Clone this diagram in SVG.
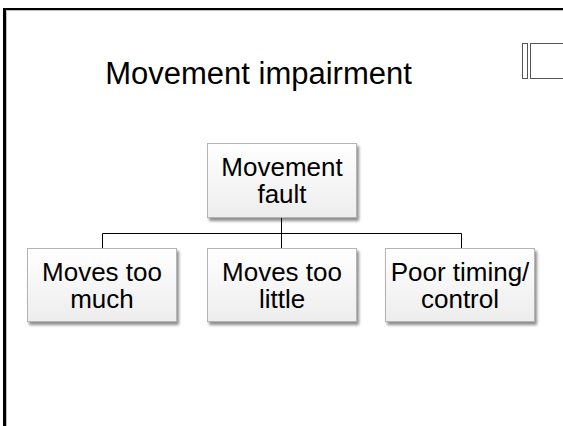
<svg xmlns="http://www.w3.org/2000/svg" width="563" height="426" viewBox="0 0 563 426">
  <style>
    .lbl { font-family: "Liberation Sans", Arial, sans-serif; font-size: 26px; fill: #000; text-anchor: middle; }
    .title { font-family: "Liberation Sans", Arial, sans-serif; font-size: 31px; fill: #000; text-anchor: middle; }
    .box { fill: url(#boxfill); stroke: #b4b4b4; stroke-width: 1; filter: url(#shadow); }
    .conn { stroke: #000; stroke-width: 1; fill: none; }
    .icon { fill: #fff; stroke: #555; stroke-width: 1; }
  </style>
  <defs>
    <linearGradient id="boxfill" x1="0" y1="0" x2="0" y2="1">
      <stop offset="0" stop-color="#ffffff"/>
      <stop offset="1" stop-color="#ededed"/>
    </linearGradient>
    <filter id="shadow" x="-10%" y="-10%" width="130%" height="140%">
      <feGaussianBlur in="SourceAlpha" stdDeviation="1.5"/>
      <feOffset dx="1.5" dy="2.5" result="b"/>
      <feComponentTransfer><feFuncA type="linear" slope="0.45"/></feComponentTransfer>
      <feMerge><feMergeNode/><feMergeNode in="SourceGraphic"/></feMerge>
    </filter>
  </defs>
  <rect width="563" height="426" fill="#fff"/>
  <g id="frame">
    <rect x="3" y="8" width="560" height="2" fill="#000"/>
    <rect x="3" y="8" width="3" height="418" fill="#000"/>
    <rect x="6" y="10" width="557" height="1" fill="#c0c0c0"/>
    <rect x="6" y="10" width="1" height="416" fill="#c0c0c0"/>
  </g>
  <g id="icon">
    <rect class="icon" x="522.5" y="43.5" width="5" height="35"/>
    <rect class="icon" x="530.5" y="43.5" width="40" height="35"/>
  </g>
  <g id="title">
    <text class="title" x="258.5" y="84">Movement impairment</text>
  </g>
  <g id="connectors">
    <path class="conn" d="M281.5 218 V248"/>
    <path class="conn" d="M102.5 248 V233.5 H461.5 V248"/>
  </g>
  <g id="node-fault">
    <rect class="box" x="207.5" y="143.5" width="149" height="74"/>
    <text class="lbl" x="282" y="176">Movement</text>
    <text class="lbl" x="282" y="203">fault</text>
  </g>
  <g id="node-much">
    <rect class="box" x="27.5" y="248.5" width="149" height="73"/>
    <text class="lbl" x="102" y="281">Moves too</text>
    <text class="lbl" x="102" y="308">much</text>
  </g>
  <g id="node-little">
    <rect class="box" x="207.5" y="248.5" width="149" height="73"/>
    <text class="lbl" x="282" y="281">Moves too</text>
    <text class="lbl" x="282" y="308">little</text>
  </g>
  <g id="node-timing">
    <rect class="box" x="385.5" y="248.5" width="149" height="73"/>
    <text class="lbl" x="460" y="281">Poor timing/</text>
    <text class="lbl" x="460" y="308">control</text>
  </g>
</svg>
